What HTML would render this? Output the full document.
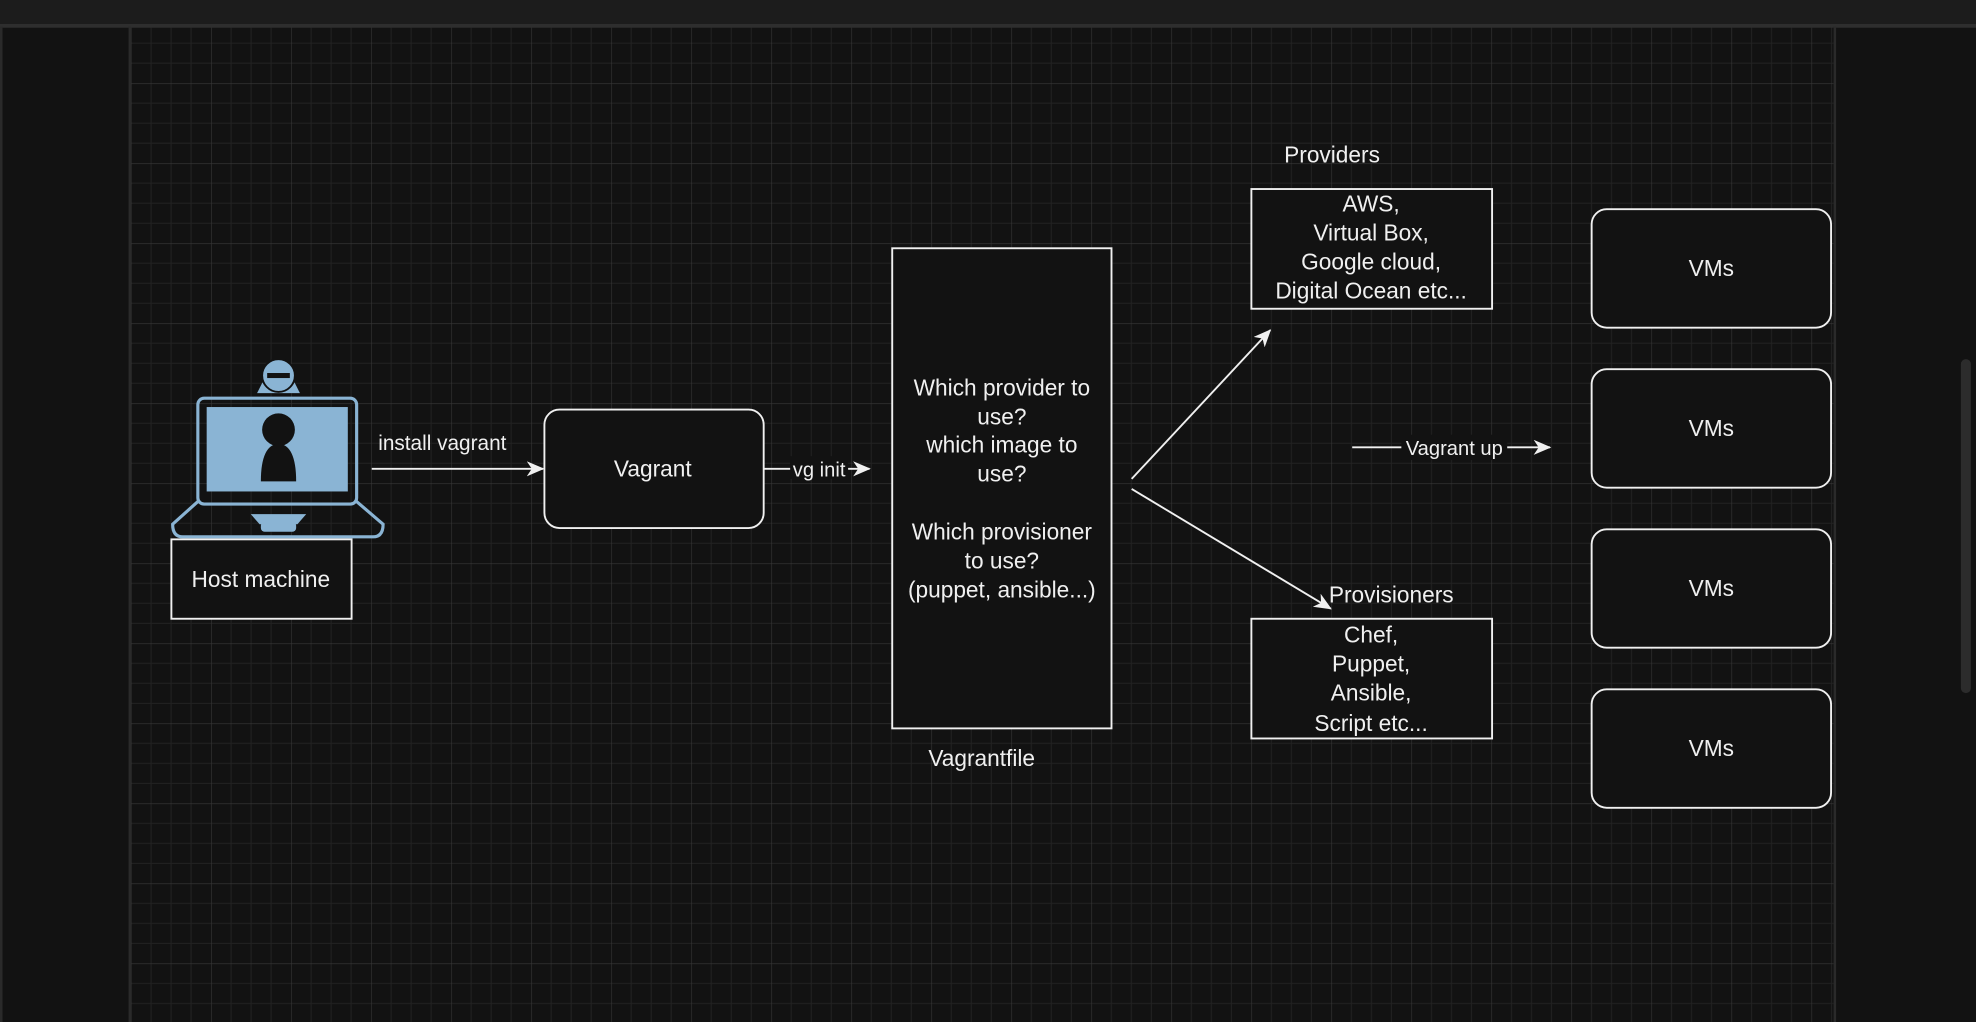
<!DOCTYPE html>
<html><head><meta charset="utf-8"><style>
html,body{margin:0;padding:0;background:#121212;width:1976px;height:1022px;overflow:hidden}
svg{display:block}
text{font-family:"Liberation Sans",Arial,sans-serif;fill:#f0f0f0;font-size:18px}
</style></head><body>
<svg width="1976" height="1022" viewBox="0 0 1568 811" preserveAspectRatio="none">
<defs>
<pattern id="g" x="167.5" y="2.5" width="63.5" height="63.5" patternUnits="userSpaceOnUse">
<path d="M15.875 0V63.5M31.75 0V63.5M47.625 0V63.5M0 15.875H63.5M0 31.75H63.5M0 47.625H63.5" stroke="#222" stroke-width="0.8"/>
<path d="M0 0V63.5M0 0H63.5" stroke="#383838" stroke-width="0.9"/>
</pattern>
<marker id="a" markerWidth="14" markerHeight="12" refX="13" refY="6" orient="auto" markerUnits="userSpaceOnUse">
<path d="M0 0L14 6L0 12L4 6Z" fill="#f0f0f0"/>
</marker>
</defs>
<rect width="1568" height="811" fill="#121212"/>
<rect x="104" y="21" width="1351" height="790" fill="url(#g)"/>
<rect x="0" y="0" width="1568" height="20" fill="#1c1c1c"/>
<rect x="0" y="19" width="1568" height="3" fill="#2e2e2e"/>
<rect x="102" y="21" width="2" height="790" fill="#2a2a2a"/>
<rect x="1455" y="21" width="2" height="790" fill="#2a2a2a"/>
<rect x="0" y="21" width="2" height="790" fill="#2a2a2a"/>
<rect x="1556" y="285" width="8" height="265" rx="4" fill="#2c2c2c"/>

<!-- laptop -->
<g stroke="#8ab4d4" fill="none" stroke-width="2.5">
<rect x="157" y="316" width="126" height="84" rx="5"/>
<path d="M157 398L137 416Q137 426 145 426H296Q304 426 304 416L283 398"/>
</g>
<rect x="164" y="323" width="112" height="67" fill="#8ab4d4"/>
<circle cx="221" cy="341" r="13" fill="#121212"/>
<path d="M207 382Q207 353 221 352Q235 353 235 382Z" fill="#121212"/>
<path d="M199 408H243L236 416H206Z" fill="#8ab4d4"/>
<rect x="207" y="414" width="28" height="8" rx="3" fill="#8ab4d4"/>
<path d="M204 312L210 300H232L238 312Z" fill="#8ab4d4"/>
<circle cx="221" cy="298" r="13" fill="#8ab4d4" stroke="#121212" stroke-width="1.5"/>
<rect x="212" y="296" width="18" height="4" fill="#121212"/>

<g stroke="#f0f0f0" stroke-width="1.5" fill="#121212">
<rect x="136" y="428" width="143" height="63"/>
<rect x="432" y="325" width="174" height="94" rx="12"/>
<rect x="708" y="197" width="174" height="381"/>
<rect x="993" y="150" width="191" height="95"/>
<rect x="993" y="491" width="191" height="95"/>
<rect x="1263" y="166" width="190" height="94" rx="12"/>
<rect x="1263" y="293" width="190" height="94" rx="12"/>
<rect x="1263" y="420" width="190" height="94" rx="12"/>
<rect x="1263" y="547" width="190" height="94" rx="12"/>
</g>
<g stroke="#f0f0f0" stroke-width="1.5" fill="none" marker-end="url(#a)">
<path d="M295 372H431"/>
<path d="M606 372H690"/>
<path d="M898 380L1008 262"/>
<path d="M898 388L1056 483"/>
<path d="M1073 355H1230"/>
</g>
<rect x="627" y="362" width="46" height="18" fill="#121212"/>
<rect x="1112" y="345" width="84" height="20" fill="#121212"/>

<g text-anchor="middle">
<text x="207" y="466">Host machine</text>
<text x="351" y="357" style="font-size:16.5px">install vagrant</text>
<text x="518" y="378">Vagrant</text>
<text x="650" y="378" style="font-size:16px">vg init</text>
<text x="795" y="314">Which provider to</text>
<text x="795" y="337">use?</text>
<text x="795" y="359">which image to</text>
<text x="795" y="382">use?</text>
<text x="795" y="428">Which provisioner</text>
<text x="795" y="451">to use?</text>
<text x="795" y="474">(puppet, ansible...)</text>
<text x="779" y="608">Vagrantfile</text>
<text x="1057" y="129">Providers</text>
<text x="1088" y="168">AWS,</text>
<text x="1088" y="191">Virtual Box,</text>
<text x="1088" y="214">Google cloud,</text>
<text x="1088" y="237">Digital Ocean etc...</text>
<text x="1104" y="478">Provisioners</text>
<text x="1088" y="510">Chef,</text>
<text x="1088" y="533">Puppet,</text>
<text x="1088" y="556">Ansible,</text>
<text x="1088" y="580">Script etc...</text>
<text x="1154" y="361" style="font-size:16px">Vagrant up</text>
<text x="1358" y="219">VMs</text>
<text x="1358" y="346">VMs</text>
<text x="1358" y="473">VMs</text>
<text x="1358" y="600">VMs</text>
</g>
</svg>
</body></html>
